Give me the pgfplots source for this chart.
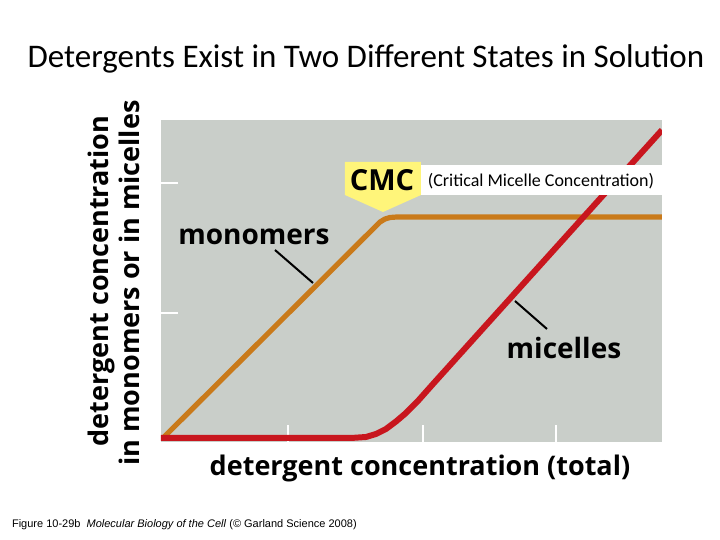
\documentclass[border=0pt]{standalone}
\usepackage{pgfplots}
\pgfplotsset{compat=1.18}
\usepackage{fontspec}
\setmainfont{Carlito}
\newfontfamily\lblfont{Open Sans}
\newfontfamily\capfont{Liberation Sans}
\definecolor{plotbg}{RGB}{201,206,201}
\definecolor{monocol}{RGB}{201,122,26}
\definecolor{micol}{RGB}{200,22,30}
\definecolor{cmcyel}{RGB}{255,245,122}
\begin{document}
\begin{tikzpicture}
\begin{axis}[
    at={(0,0)}, anchor=south west,
    scale only axis, width=250.5pt, height=161pt,
    xmin=0, xmax=501, ymin=0, ymax=322,
    axis background/.style={fill=plotbg},
    axis line style={draw=none},
    xtick={127,262,395}, ytick={129,259},
    xticklabels={}, yticklabels={},
    tick pos=left, tick align=inside,
    major tick length=8.5pt,
    tick style={white, line width=1.2pt},
]
% monomers
\addplot[monocol, line width=2.6pt, line join=round] coordinates {
    (2,4) (219,220) (224,223) (229,224.5) (236,225) (501,225)
};
% micelles
\addplot[micol, line width=3pt, line join=round] coordinates {
    (0,4) (190,4) (205,5) (215,8) (225,13) (235,20.5) (245,29) (256,40) (272,58) (501,312)
};
\end{axis}
% overlay in pixel units of the 720x540 reference
\begin{scope}[shift={(-80.5pt,221pt)}, x=0.5pt, y=-0.5pt]
\path[use as bounding box] (0,0) rectangle (720,540);
\node[anchor=base, font=\fontsize{16.5}{19}\selectfont] at (366,68)
    {Detergents Exist in Two Different States in Solution};
\node[anchor=base, rotate=90, font=\lblfont\bfseries\fontsize{13.5}{15}\selectfont] at (109,281)
    {detergent concentration};
\node[anchor=base, rotate=90, font=\lblfont\bfseries\fontsize{13.5}{15}\selectfont] at (140,283)
    {in monomers or in micelles};
\node[anchor=base, font=\lblfont\bfseries\fontsize{13.5}{15}\selectfont] at (420,476)
    {detergent concentration (total)};
% white box for the CMC note
\fill[white] (421,165) rectangle (662,195);
\node[anchor=base, font=\fontsize{9}{11}\selectfont] at (541,187)
    {(Critical Micelle Concentration)};
% CMC pointer
\fill[cmcyel] (345,162) -- (421,162) -- (421,195) -- (383,212) -- (345,195) -- cycle;
\node[anchor=base, font=\lblfont\bfseries\fontsize{14.5}{16}\selectfont] at (382,191) {CMC};
% series labels and leaders
\node[anchor=base, font=\lblfont\bfseries\fontsize{14}{16}\selectfont] at (254,245) {monomers};
\draw[line width=1pt] (275,250) -- (313,283);
\node[anchor=base, font=\lblfont\bfseries\fontsize{14}{16}\selectfont] at (564,359) {micelles};
\draw[line width=1pt] (515,301) -- (547,329);
% source line
\node[anchor=base west, font=\capfont\fontsize{5.5}{7}\selectfont] at (5,528)
    {Figure 10-29b \ \textit{Molecular Biology of the Cell} (\textcopyright\ Garland Science 2008)};
\end{scope}
\end{tikzpicture}
\end{document}
